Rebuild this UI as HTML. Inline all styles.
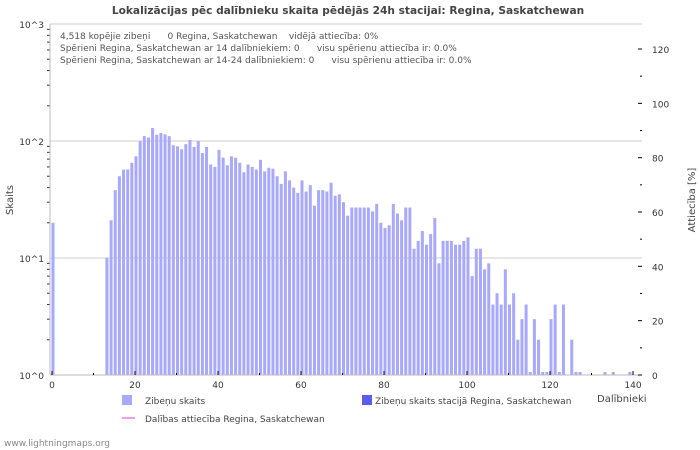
<!DOCTYPE html>
<html><head><meta charset="utf-8"><style>
body{margin:0;background:#fff;}
svg{display:block;font-family:"DejaVu Sans","Liberation Sans",sans-serif;}
</style></head><body>
<svg id="chart" width="700" height="450">
<text x="348" y="14" text-anchor="middle" font-size="10.6" font-weight="bold" fill="#444">Lokalizācijas pēc dalībnieku skaita pēdējās 24h stacijai: Regina, Saskatchewan</text>
<g id="grid"></g>
<g id="bars"></g>
<g id="axes"></g>
<g font-size="9" fill="#555">
<text x="60" y="39">4,518 kopējie zibeņi &#160;&#160;&#160;&#160;&#160;0 Regina, Saskatchewan &#160;&#160;&#160;vidējā attiecība: 0%</text>
<text x="60" y="51">Spērieni Regina, Saskatchewan ar 14 dalībniekiem: 0 &#160;&#160;&#160;&#160;&#160;visu spērienu attiecība ir: 0.0%</text>
<text x="60" y="63">Spērieni Regina, Saskatchewan ar 14-24 dalībniekiem: 0 &#160;&#160;&#160;&#160;&#160;visu spērienu attiecība ir: 0.0%</text>
</g>
<text transform="translate(13,200) rotate(-90)" text-anchor="middle" font-size="10" fill="#444">Skaits</text>
<text transform="translate(695,200) rotate(-90)" text-anchor="middle" font-size="10" fill="#444">Attiecība [%]</text>
<text x="597" y="402" font-size="10" fill="#444">Dalībnieki</text>
<rect x="122" y="395" width="10" height="10" fill="#a8a8fc"/>
<text x="145" y="404" font-size="9" fill="#444">Zibeņu skaits</text>
<rect x="362" y="395" width="10" height="10" fill="#5c5cf0"/>
<text x="375" y="404" font-size="9" fill="#444">Zibeņu skaits stacijā Regina, Saskatchewan</text>
<line x1="122" y1="418" x2="135" y2="418" stroke="#e080e0" stroke-width="1.5"/>
<text x="145" y="422" font-size="9" fill="#444">Dalības attiecība Regina, Saskatchewan</text>
<text x="4" y="446" font-size="9" fill="#888">www.lightningmaps.org</text>
</svg>
<script>
const participants=[0,13,14,15,16,17,18,19,20,21,22,23,24,25,26,27,28,29,30,31,32,33,34,35,36,37,38,39,40,41,42,43,44,45,46,47,48,49,50,51,52,53,54,55,56,57,58,59,60,61,62,63,64,65,66,67,68,69,70,71,72,73,74,75,76,77,78,79,80,81,82,83,84,85,86,87,88,89,90,91,92,93,94,95,96,97,98,99,100,101,102,103,104,105,106,107,108,109,110,111,112,113,114,115,116,117,118,119,120,121,122,123,125,126,127,133,135,139];
const counts=[20,10,21,38,50,57,57,65,74,99,110,107,129,113,117,114,110,92,90,85,94,102,89,100,79,89,63,60,84,72,62,74,72,65,54,63,60,57,69,55,59,58,50,43,55,46,40,36,46,37,42,28,38,38,37,44,34,35,30,23,27,27,27,27,27,25,29,20,18,19,29,24,21,27,27,12,14,17,13,16,22,9,14,14,14,13,13,14,15,7,12,12,8,9,4,5,4,8,4,5,2,3,4,1,3,2,1,1,3,4,1,4,2,1,1,1,1,1];
const xTicks=[0,20,40,60,80,100,120,140];
const yDecades=[0,1,2,3];
const y2Ticks=[0,20,40,60,80,100,120];
const NS='http://www.w3.org/2000/svg';
const X0=50,X1=642,Y0=375,Y1=24;
const xs=v=>52+4.15*v;
const ys=v=>Y0-117*Math.log10(v);
const y2s=v=>Y0-(Y0-49)*v/120;
function mk(tag,attrs,parent,txt){const e=document.createElementNS(NS,tag);for(const k in attrs)e.setAttribute(k,attrs[k]);if(txt!==undefined)e.textContent=txt;parent.appendChild(e);return e;}
const grid=document.getElementById('grid'),bars=document.getElementById('bars'),axes=document.getElementById('axes');
yDecades.forEach(d=>{const y=ys(Math.pow(10,d));
 const l=mk('line',{x1:X0,x2:X1,y1:y,y2:y,stroke:'#ccc','stroke-width':1},grid);
 
 
 const t=mk('text',{x:44,y:y+4,'text-anchor':'end','font-size':9,fill:'#333'},axes,'10^'+d);
 
 
 if(d<3)for(let m=2;m<10;m++){const yy=ys(m*Math.pow(10,d));mk('line',{x1:X0-3,x2:X0,y1:yy,y2:yy,stroke:'#333'},axes);}
});
participants.forEach((p,i)=>{const v=counts[i];let top=ys(v);if(Y0-top<3)top=Y0-3;
 const r=mk('rect',{x:xs(p)-0.5,y:top,width:3,height:Y0-top,fill:'#a8a8fc'},bars);
 
 
});
mk('line',{x1:X0,x2:X0,y1:Y1,y2:Y0,stroke:'#bbb'},axes);
mk('line',{x1:X0,x2:X1,y1:Y0,y2:Y0,stroke:'#bbb'},axes);
xTicks.forEach(v=>{const x=xs(v);
 mk('line',{x1:x,x2:x,y1:Y0-4,y2:Y0,stroke:'#000'},axes);
 const t=mk('text',{x:x,y:Y0+13,'text-anchor':'middle','font-size':9,fill:'#333'},axes,v);
 
 
});
for(let v=10;v<140;v+=20){const x=xs(v);mk('line',{x1:x,x2:x,y1:Y0-2,y2:Y0,stroke:'#000'},axes);}
y2Ticks.forEach(v=>{const y=y2s(v);
 mk('line',{x1:X1-4,x2:X1,y1:y,y2:y,stroke:'#000'},axes);
 const t=mk('text',{x:652,y:y+4,'font-size':9,fill:'#333'},axes,v);
 
 
});
for(let v=10;v<130;v+=20){const y=y2s(v);mk('line',{x1:X1-2,x2:X1,y1:y,y2:y,stroke:'#000'},axes);}
</script>
</body></html>
